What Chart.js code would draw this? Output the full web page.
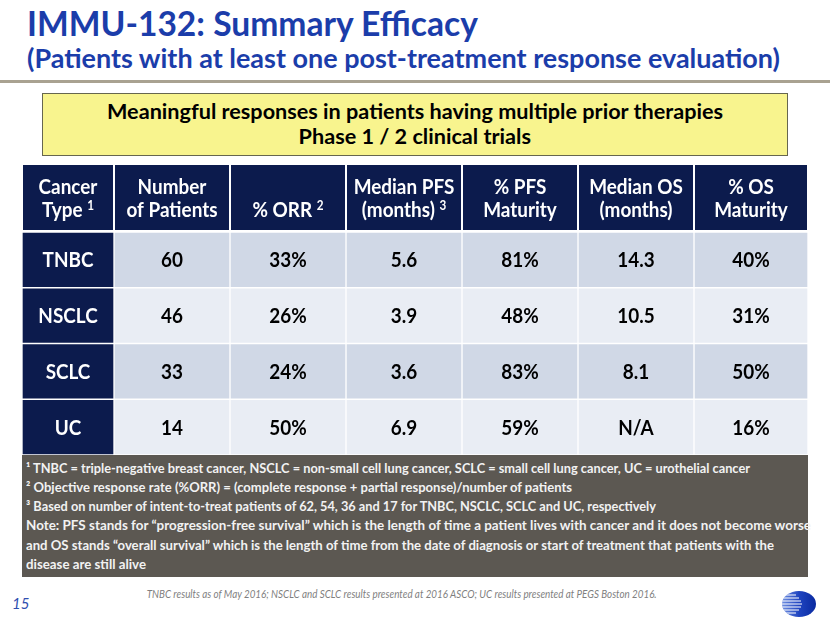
<!DOCTYPE html>
<html>
<head>
<meta charset="utf-8">
<script src="https://cdn.jsdelivr.net/npm/chart.js@4.4.1/dist/chart.umd.min.js"></script>
<style>
html,body{margin:0;padding:0;background:#fff;width:830px;height:623px;overflow:hidden;position:relative;font-family:Lato,"Noto Sans",sans-serif}
.t{position:absolute;white-space:nowrap;line-height:1.2;top:0;left:0}
.blue{color:#1b3daa;font-weight:700}
.fn{color:#f2f2f2;font-weight:700;font-size:14px}
</style>
</head>
<body>
<div class="t blue" id="title" data-x="27" data-b="36" data-w="451" style="font-size:35px">IMMU-132: Summary Efficacy</div>
<div class="t blue" id="sub" data-x="27" data-b="68" data-w="753" style="font-size:27px">(Patients with at least one post-treatment response evaluation)</div>
<div style="position:absolute;left:0;top:80px;width:830px;height:3px;background:#a9a291"></div>
<div style="position:absolute;left:42px;top:93px;width:744px;height:61px;background:#f8f48e;border:1px solid #66664f"></div>
<div class="t" id="y1" data-cx="415" data-b="119" data-w="616" style="font-size:21px;font-weight:700;color:#000">Meaningful responses in patients having multiple prior therapies</div>
<div class="t" data-cx="415" data-b="144" data-same="y1" style="font-size:21px;font-weight:700;color:#000">Phase 1 / 2 clinical trials</div>

<div style="position:absolute;left:22px;top:165px;width:786px;height:290px">
<canvas id="c" width="786" height="290"></canvas>
</div>

<div style="position:absolute;left:22px;top:455px;width:786px;height:122px;background:#5c5852"></div>
<div class="t fn" id="f1" data-x="26" data-b="473" data-w="724">¹ TNBC = triple-negative breast cancer, NSCLC = non-small cell lung cancer, SCLC = small cell lung cancer, UC = urothelial cancer</div>
<div class="t fn" data-x="26" data-b="492" data-w="546">² Objective response rate (%ORR) = (complete response + partial response)/number of patients</div>
<div class="t fn" data-x="26" data-b="511" data-w="630">³ Based on number of intent-to-treat patients of 62, 54, 36 and 17 for TNBC, NSCLC, SCLC and UC, respectively</div>
<div class="t fn" data-x="26" data-b="530" data-w="785">Note: PFS stands for “progression-free survival” which is the length of time a patient lives with cancer and it does not become worse</div>
<div class="t fn" data-x="26" data-b="550" data-w="748">and OS stands “overall survival” which is the length of time from the date of diagnosis or start of treatment that patients with the</div>
<div class="t fn" data-x="26" data-b="569" data-w="120">disease are still alive</div>

<div class="t" data-cx="402" data-b="598" data-w="510" style="font-size:11px;font-style:italic;color:#7f7f7f">TNBC results as of May 2016; NSCLC and SCLC results presented at 2016 ASCO; UC results presented at PEGS Boston 2016.</div>
<div class="t" data-x="12" data-b="609" style="font-size:15px;font-style:italic;color:#2f4fb0">15</div>

<svg style="position:absolute;left:781px;top:590px" width="36" height="28" viewBox="0 0 36 28">
<defs>
<linearGradient id="lg" x1="0" x2="1" y1="0" y2="0">
<stop offset="0" stop-color="#6f8fe0"/><stop offset="0.5" stop-color="#1f44c0"/><stop offset="1" stop-color="#0a2aa0"/>
</linearGradient>
<clipPath id="cp"><ellipse cx="18" cy="14" rx="17" ry="13"/></clipPath>
</defs>
<ellipse cx="18" cy="14" rx="17" ry="13" fill="url(#lg)"/>
<g clip-path="url(#cp)" stroke="#ffffff" stroke-width="1.2">
<line x1="0" y1="5" x2="15" y2="5"/>
<line x1="0" y1="8" x2="18" y2="8"/>
<line x1="0" y1="11" x2="20" y2="11"/>
<line x1="0" y1="14" x2="21" y2="14"/>
<line x1="0" y1="17" x2="20" y2="17"/>
<line x1="0" y1="20" x2="18" y2="20"/>
<line x1="0" y1="23" x2="15" y2="23"/>
</g>
</svg>

<script>
// ---- data ----
const cancerTypes = ['TNBC', 'NSCLC', 'SCLC', 'UC'];
const patients = [60, 46, 33, 14];
const orrPct = [33, 26, 24, 50];
const medianPFS = [5.6, 3.9, 3.6, 6.9];
const pfsMaturityPct = [81, 48, 83, 59];
const medianOS = [14.3, 10.5, 8.1, null];
const osMaturityPct = [40, 31, 50, 16];
const headerTop = ['Cancer', 'Number', '', 'Median PFS', '% PFS', 'Median OS', '% OS'];
const headerBottom = ['Type', 'of Patients', '% ORR', '(months)', 'Maturity', '(months)', 'Maturity'];
const headerSup = ['1', '', '2', '3', '', '', ''];

// ---- layout / style ----
const COL_SHARE = [92, 116, 116, 116, 116, 116, 114];
const NAVY = '#0c1b4d';
const ROW_DARK = '#d0d8e6';
const ROW_LIGHT = '#e9edf4';
const FONT = 'Lato, "Noto Sans", sans-serif';
const CELL_PX = 21;

function place() {
  const els = Array.from(document.querySelectorAll('.t'));
  const scales = {};
  els.forEach(el => {
    const mk = document.createElement('span');
    mk.style.cssText = 'display:inline-block;width:0;height:0;vertical-align:baseline';
    el.appendChild(mk);
    const r = el.getBoundingClientRect();
    const baseOff = mk.getBoundingClientRect().top - r.top;
    const w = r.width;
    let s = 1;
    if (el.dataset.w) s = parseFloat(el.dataset.w) / w;
    else if (el.dataset.same) s = scales[el.dataset.same] || 1;
    if (el.id) scales[el.id] = s;
    el.style.top = (parseFloat(el.dataset.b) - baseOff) + 'px';
    if (el.dataset.cx !== undefined) {
      el.style.left = (parseFloat(el.dataset.cx) - w / 2) + 'px';
      el.style.transformOrigin = 'center';
    } else {
      el.style.left = el.dataset.x + 'px';
      el.style.transformOrigin = 'left';
    }
    el.style.transform = 'scaleX(' + s + ')';
  });
}
place();

function cellText(i, j) {
  switch (j) {
    case 0: return cancerTypes[i];
    case 1: return String(patients[i]);
    case 2: return orrPct[i] + '%';
    case 3: return medianPFS[i].toFixed(1);
    case 4: return pfsMaturityPct[i] + '%';
    case 5: return medianOS[i] == null ? 'N/A' : medianOS[i].toFixed(1);
    case 6: return osMaturityPct[i] + '%';
  }
}

const HEADER_H = 67;
let K = 1;

function drawScaled(ctx, text, cx, baseline, k) {
  ctx.save();
  ctx.translate(cx, baseline);
  ctx.scale(k, 1);
  ctx.textAlign = 'center';
  ctx.textBaseline = 'alphabetic';
  ctx.fillText(text, 0, 0);
  ctx.restore();
}

function drawWithSup(ctx, text, sup, cx, baseline, k) {
  ctx.save();
  ctx.textBaseline = 'alphabetic';
  ctx.textAlign = 'left';
  const mainFont = 'bold ' + CELL_PX + 'px ' + FONT;
  const supFont = 'bold 13px ' + FONT;
  ctx.font = mainFont;
  const w1 = ctx.measureText(text + (sup ? ' ' : '')).width;
  ctx.font = supFont;
  const w2 = sup ? ctx.measureText(sup).width : 0;
  const total = (w1 + w2) * k;
  ctx.translate(cx - total / 2, baseline);
  ctx.scale(k, 1);
  ctx.font = mainFont;
  ctx.fillText(text, 0, 0);
  if (sup) {
    ctx.font = supFont;
    ctx.fillText(sup, w1, -7);
  }
  ctx.restore();
}

const tablePlugin = {
  id: 'tablePlugin',
  afterDatasetsDraw(chart) {
    const ctx = chart.ctx;
    const top = chart.chartArea.top;
    ctx.save();
    ctx.font = 'bold ' + CELL_PX + 'px ' + FONT;
    K = 91 / ctx.measureText('of Patients').width;
    chart.data.datasets.forEach((ds, j) => {
      const meta = chart.getDatasetMeta(j);
      const first = meta.data[0];
      const x0 = Math.min(first.x, first.base), x1 = Math.max(first.x, first.base);
      ctx.fillStyle = NAVY;
      ctx.fillRect(x0 + 1, 0, x1 - x0 - 2, top - 2);
      ctx.fillStyle = '#ffffff';
      const cx = (x0 + x1) / 2;
      if (headerTop[j]) drawWithSup(ctx, headerTop[j], '', cx, 29, K);
      drawWithSup(ctx, headerBottom[j], headerSup[j], cx, 52, K);
      meta.data.forEach((bar, i) => {
        const bx = (bar.x + bar.base) / 2;
        ctx.fillStyle = j === 0 ? '#ffffff' : '#000000';
        ctx.font = 'bold ' + CELL_PX + 'px ' + FONT;
        drawScaled(ctx, cellText(i, j), bx, bar.y + 7.5, K);
      });
    });
    ctx.restore();
  }
};

const datasets = COL_SHARE.map((share, j) => ({
  label: headerBottom[j],
  data: cancerTypes.map(() => share),
  backgroundColor: (c) => j === 0 ? NAVY : (c.dataIndex % 2 === 0 ? ROW_DARK : ROW_LIGHT),
  borderColor: '#ffffff',
  borderWidth: 1,
  borderSkipped: false,
  barPercentage: 1,
  categoryPercentage: 1
}));

new Chart(document.getElementById('c'), {
  type: 'bar',
  data: { labels: cancerTypes, datasets },
  options: {
    indexAxis: 'y',
    responsive: false,
    animation: false,
    devicePixelRatio: 1,
    layout: { padding: { top: HEADER_H, left: 0, right: 0, bottom: 0 } },
    plugins: { legend: { display: false }, tooltip: { enabled: false } },
    scales: {
      x: { stacked: true, display: false, min: 0, max: COL_SHARE.reduce((a, b) => a + b, 0) },
      y: { stacked: true, display: false }
    }
  },
  plugins: [tablePlugin]
});
</script>
</body>
</html>
